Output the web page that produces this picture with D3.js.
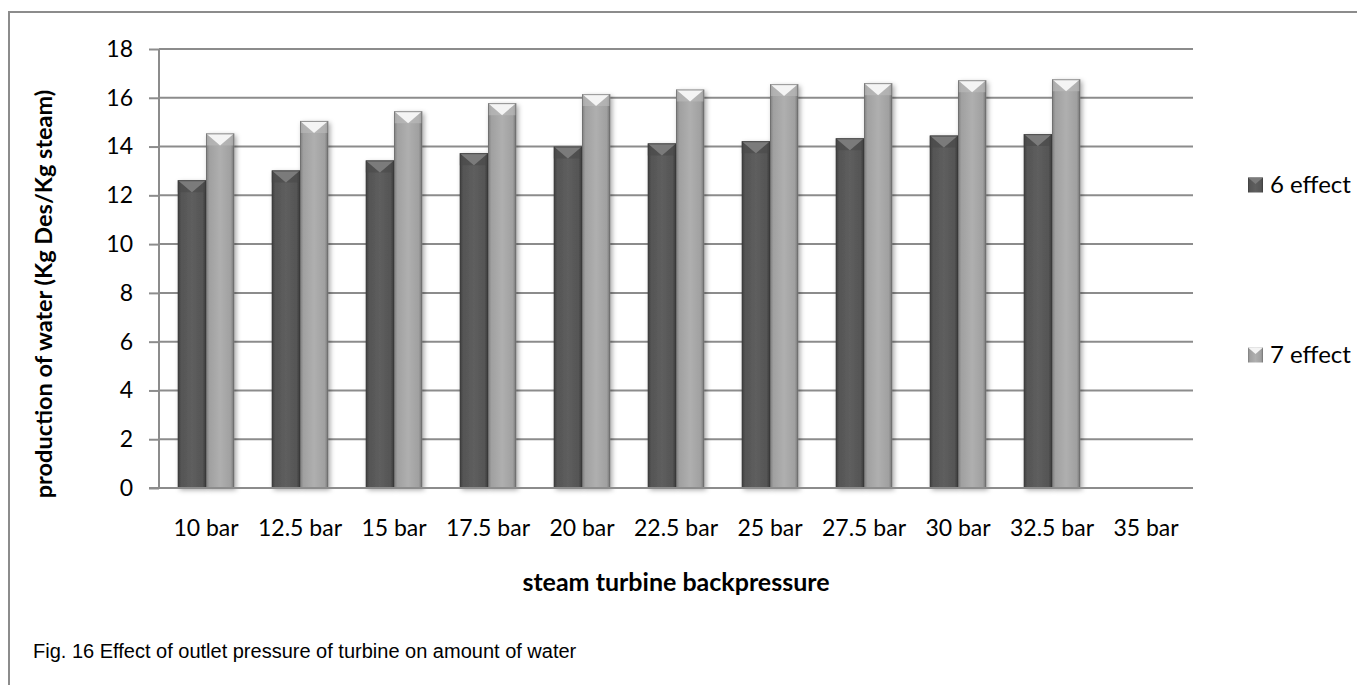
<!DOCTYPE html>
<html>
<head>
<meta charset="utf-8">
<script src="https://cdn.jsdelivr.net/npm/d3@7"></script>
<style>
  html, body { margin: 0; padding: 0; background: #fff; }
  svg { display: block; }
</style>
</head>
<body>
<svg id="chart" width="1364" height="685"></svg>
<script>
// Water production per kg of steam vs. steam turbine backpressure
const categories = ["10 bar", "12.5 bar", "15 bar", "17.5 bar", "20 bar", "22.5 bar",
                    "25 bar", "27.5 bar", "30 bar", "32.5 bar", "35 bar"];
const seriesNames = ["6 effect", "7 effect"];
const effect6 = [12.62, 13.02, 13.43, 13.73, 14.0, 14.13, 14.22, 14.34, 14.45, 14.51, null];
const effect7 = [14.54, 15.05, 15.45, 15.78, 16.15, 16.34, 16.56, 16.6, 16.72, 16.76, null];
const yTicks = [0, 2, 4, 6, 8, 10, 12, 14, 16, 18];

const svg = d3.select("#chart");
const plotLeft = 159, plotRight = 1193, plotTop = 49, plotBottom = 488;
const axisColor = "#8c8c8c";
const labelFont = "Lato, 'Open Sans', sans-serif";

// outer frame
svg.append("path")
  .attr("d", "M9,685 L9,12 L1357,12")
  .attr("fill", "none").attr("stroke", axisColor).attr("stroke-width", 2);

const x = d3.scaleBand().domain(categories).range([plotLeft, plotRight])
  .paddingInner(0.4).paddingOuter(0.2);
const xs = d3.scaleBand().domain(seriesNames).range([0, x.bandwidth()]);
const y = d3.scaleLinear().domain([0, 18]).range([plotBottom, plotTop]);

// gradients for the bevelled bars
const defs = svg.append("defs");
function hGrad(id, stops) {
  const g = defs.append("linearGradient").attr("id", id)
    .attr("x1", "0%").attr("x2", "100%").attr("y1", "0%").attr("y2", "0%");
  stops.forEach(s => g.append("stop").attr("offset", s[0]).attr("stop-color", s[1]));
}
hGrad("g6", [["0%", "#3f3f3f"], ["12%", "#555"], ["50%", "#5e5e5e"], ["88%", "#555"], ["100%", "#3c3c3c"]]);
hGrad("g7", [["0%", "#7c7c7c"], ["12%", "#a0a0a0"], ["50%", "#afafaf"], ["88%", "#a0a0a0"], ["100%", "#717171"]]);
const shadow = defs.append("filter").attr("id", "sh")
  .attr("x", "-30%").attr("y", "-10%").attr("width", "160%").attr("height", "130%");
shadow.append("feDropShadow").attr("dx", 2).attr("dy", 2).attr("stdDeviation", 2.5)
  .attr("flood-color", "#000").attr("flood-opacity", 0.35);

const styles = {
  "6 effect": { fill: "url(#g6)", topFace: "#7b7b7b", sideFace: "#4a4a4a", edge: "#3a3a3a" },
  "7 effect": { fill: "url(#g7)", topFace: "#f4f4f4", sideFace: "#bdbdbd", edge: "#6a6a6a" }
};

// gridlines and y ticks
const yAxis = d3.axisLeft(y).tickValues(yTicks).tickSize(10).tickPadding(16).tickFormat(d3.format("d"));
const gy = svg.append("g").attr("transform", `translate(${plotLeft},0)`).call(yAxis);
gy.select(".domain").attr("stroke", axisColor).attr("stroke-width", 2)
  .attr("d", `M0,${plotTop}V${plotBottom}`);
gy.selectAll(".tick line").attr("stroke", axisColor).attr("stroke-width", 2);
gy.selectAll(".tick text").attr("font-family", labelFont).attr("font-size", 23).attr("fill", "#000");

svg.append("g").selectAll("line").data(yTicks).join("line")
  .attr("x1", plotLeft).attr("x2", plotRight)
  .attr("y1", d => y(d)).attr("y2", d => y(d))
  .attr("stroke", axisColor).attr("stroke-width", 2);

// x axis labels
const xAxis = d3.axisBottom(x).tickSize(0).tickPadding(32);
const gx = svg.append("g").attr("transform", `translate(0,${plotBottom})`).call(xAxis);
gx.select(".domain").remove();
gx.selectAll(".tick text").attr("font-family", labelFont).attr("font-size", 23).attr("fill", "#000");

// bars
const rows = categories.map((c, i) => ({ c, vals: [effect6[i], effect7[i]] }));
const bars = [];
rows.forEach(r => r.vals.forEach((v, j) => {
  if (v != null) bars.push({ c: r.c, s: seriesNames[j], v });
}));

const bevel = 12;
const barG = svg.append("g").selectAll("g").data(bars).join("g");
barG.each(function (d) {
  const g = d3.select(this);
  const st = styles[d.s];
  const x0 = x(d.c) + xs(d.s), w = xs.bandwidth();
  const y0 = y(d.v), h = y(0) - y(d.v);
  const cx = x0 + w / 2;
  g.append("rect").attr("x", x0).attr("y", y0).attr("width", w).attr("height", h)
    .attr("fill", st.fill).attr("filter", "url(#sh)");
  g.append("path").attr("d", `M${x0},${y0}L${cx},${y0 + bevel}L${x0},${y0 + bevel}Z`).attr("fill", st.sideFace).attr("opacity", 0.6);
  g.append("path").attr("d", `M${x0 + w},${y0}L${cx},${y0 + bevel}L${x0 + w},${y0 + bevel}Z`).attr("fill", st.sideFace).attr("opacity", 0.6);
  g.append("path").attr("d", `M${x0},${y0}L${x0 + w},${y0}L${cx},${y0 + bevel}Z`).attr("fill", st.topFace);
  g.append("rect").attr("x", x0 + 0.5).attr("y", y0 + 0.5).attr("width", w - 1).attr("height", h - 1)
    .attr("fill", "none").attr("stroke", st.edge).attr("stroke-width", 1).attr("opacity", 0.7);
});

// x axis baseline over the bars
svg.append("line").attr("x1", plotLeft - 10).attr("x2", plotRight)
  .attr("y1", plotBottom).attr("y2", plotBottom).attr("stroke", axisColor).attr("stroke-width", 2);

// axis titles
svg.append("text").attr("transform", `translate(52,294) rotate(-90)`)
  .attr("text-anchor", "middle").attr("font-family", labelFont).attr("font-weight", "bold")
  .attr("font-size", 23.5).text("production of water (Kg Des/Kg steam)");
svg.append("text").attr("x", 676).attr("y", 591)
  .attr("text-anchor", "middle").attr("font-family", labelFont).attr("font-weight", "bold")
  .attr("font-size", 25).text("steam turbine backpressure");

// legend
const legendY = [185, 355];
const lg = svg.append("g").selectAll("g").data(seriesNames).join("g")
  .attr("transform", (d, i) => `translate(1248,${legendY[i]})`);
lg.append("rect").attr("x", 0).attr("y", -7.5).attr("width", 15).attr("height", 15)
  .attr("fill", d => styles[d].fill);
lg.append("path").attr("d", "M0,-7.5L15,-7.5L7.5,-1Z").attr("fill", d => styles[d].topFace);
lg.append("text").attr("x", 22).attr("y", 0).attr("dy", "0.35em")
  .attr("font-family", labelFont).attr("font-size", 24).text(d => d);

// caption
svg.append("text").attr("x", 33).attr("y", 658)
  .attr("font-family", "'Liberation Sans', Arial, sans-serif").attr("font-size", 20)
  .text("Fig. 16 Effect of outlet pressure of turbine on amount of water");
</script>
</body>
</html>
